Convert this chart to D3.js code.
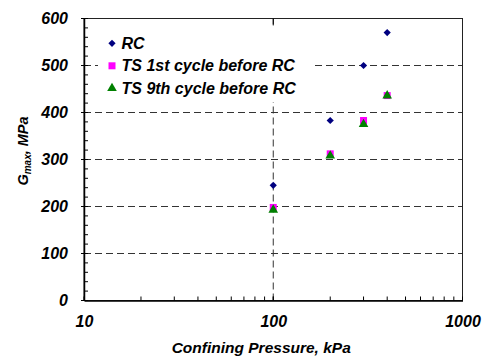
<!DOCTYPE html>
<html><head><meta charset="utf-8">
<script src="https://cdn.jsdelivr.net/npm/d3@7"></script>
<style>body{margin:0;background:#fff}svg{display:block}text{font-family:"Liberation Sans",Arial,sans-serif;font-weight:bold;font-style:italic}</style>
</head><body><div id="c"></div>
<script>
const pressures = [100, 200, 300, 400];
const rcValues = [245, 383, 500, 570];
const ts1Values = [198, 312, 383, 436];
const ts9Values = [195, 310, 377, 438];
const seriesNames = ["RC", "TS 1st cycle before RC", "TS 9th cycle before RC"];
const xTicks = [10, 100, 1000];
const yTicks = [0, 100, 200, 300, 400, 500, 600];

const W = 492, H = 356;
const m = {l: 84, r: 29.5, t: 18.5, b: 55.5};
const svg = d3.select("#c").append("svg").attr("width", W).attr("height", H);
const x = d3.scaleLog().domain([10, 1000]).range([m.l, W - m.r]);
const y = d3.scaleLinear().domain([0, 600]).range([H - m.b, m.t]);
const grid = "#333";
const dash = "7,4";
const FONT = '"Liberation Sans",Arial,sans-serif';

// gridlines
svg.append("g").selectAll("line").data(yTicks.filter(v => v > 0 && v < 600)).join("line")
  .attr("x1", m.l).attr("x2", W - m.r).attr("y1", d => y(d)).attr("y2", d => y(d))
  .attr("stroke", grid).attr("stroke-width", 1).attr("stroke-dasharray", dash);
svg.append("line").attr("x1", x(100)).attr("x2", x(100)).attr("y1", m.t).attr("y2", H - m.b)
  .attr("stroke", grid).attr("stroke-width", 1).attr("stroke-dasharray", dash);

// legend background
svg.append("rect").attr("x", 98).attr("y", 27).attr("width", 213).attr("height", 75).attr("fill", "#fff");

// frame
svg.append("rect").attr("x", m.l).attr("y", m.t).attr("width", W - m.r - m.l).attr("height", H - m.b - m.t)
  .attr("fill", "none").attr("stroke", "#222").attr("stroke-width", 1);

// y axis
const ya = svg.append("g").attr("transform", `translate(${m.l},0)`);
ya.call(d3.axisLeft(y).tickValues(yTicks).tickSize(0).tickPadding(16).tickFormat(d3.format("d")));
ya.select(".domain").attr("stroke", "#000").attr("stroke-width", 1.5);
ya.selectAll("text").attr("font-size", 16).attr("fill", "#000").style("font-family", FONT);
const yMinor = d3.range(0, 601, 20);
svg.append("g").selectAll("line").data(yMinor).join("line")
  .attr("x1", d => d % 100 === 0 ? m.l - 3 : m.l).attr("x2", m.l + 4)
  .attr("y1", d => y(d)).attr("y2", d => y(d)).attr("stroke", "#000").attr("stroke-width", 1);

// x axis
const xa = svg.append("g").attr("transform", `translate(0,${H - m.b})`);
xa.call(d3.axisBottom(x).tickValues(xTicks).tickSize(0).tickPadding(15).tickFormat(d3.format("d")));
xa.select(".domain").attr("stroke", "#000").attr("stroke-width", 1.5);
xa.selectAll("text").attr("font-size", 16).attr("fill", "#000").style("font-family", FONT);
const xMinor = [];
[10, 100].forEach(b => { for (let k = 1; k <= 10; k++) xMinor.push(b * k); });
svg.append("g").selectAll("line").data(xMinor).join("line")
  .attr("x1", d => x(d)).attr("x2", d => x(d)).attr("y1", H - m.b).attr("y2", H - m.b - 4)
  .attr("stroke", "#000").attr("stroke-width", 1);
svg.append("line").attr("x1", x(100)).attr("x2", x(100)).attr("y1", m.t).attr("y2", m.t + 6)
  .attr("stroke", "#000").attr("stroke-width", 1);

// axis titles
svg.append("text").attr("x", x(100) - 12).attr("y", 353).attr("text-anchor", "middle").attr("font-size", 15.5)
  .text("Confining Pressure, kPa");
const yt = svg.append("text").attr("transform", `translate(28,151) rotate(-90)`)
  .attr("text-anchor", "middle").attr("font-size", 14.5);
yt.append("tspan").text("G");
yt.append("tspan").attr("font-size", 10).attr("dy", 3).text("max");
yt.append("tspan").attr("dy", -3).text(", MPa");

// markers
const diamond = d3.symbol().type(d3.symbolSquare).size(26);
const shapes = [
  (sel) => sel.attr("d", diamond()).attr("data-rot", 45),
  (sel) => sel.attr("d", d3.symbol().type(d3.symbolSquare).size(49)()),
  (sel) => sel.attr("d", d3.symbol().type(d3.symbolTriangle).size(40)())
];
const rot = [45, 0, 0];
const cols = ["#000080", "#ff00ff", "#008000"];
const sets = [rcValues, ts1Values, ts9Values];
sets.forEach((vals, i) => {
  svg.append("g").selectAll("path").data(vals).join("path")
    .call(shapes[i])
    .attr("transform", (d, j) => `translate(${x(pressures[j])},${y(d) + (i === 2 ? 1 : 0)}) rotate(${rot[i]})`)
    .attr("fill", cols[i]);
});

// legend
seriesNames.forEach((n, i) => {
  const ly = 43.3 + i * 22.5;
  svg.append("path").call(shapes[i])
    .attr("transform", `translate(112,${ly}) rotate(${rot[i]})`).attr("fill", cols[i]);
  svg.append("text").attr("x", 121.5).attr("y", ly + 5.5).attr("font-size", 16).text(n);
});
</script></body></html>
